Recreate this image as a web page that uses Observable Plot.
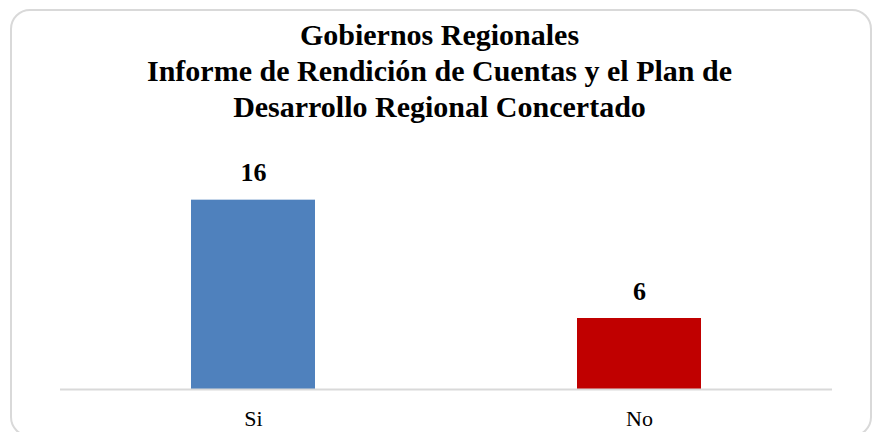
<!DOCTYPE html>
<html>
<head>
<meta charset="utf-8">
<script src="https://cdn.jsdelivr.net/npm/d3@7"></script>
<script src="https://cdn.jsdelivr.net/npm/@observablehq/plot@0.6"></script>
<style>
  html, body { margin: 0; padding: 0; background: #fff; }
  #wrap { position: relative; width: 873px; height: 432px; overflow: hidden; }
  #border { position: absolute; left: 10px; top: 9px; width: 858px; height: 424px;
            border: 2px solid #d9d9d9; border-radius: 20px; }
  #title { position: absolute; left: 3px; top: 17px; width: 873px; text-align: center;
           font-family: "Liberation Serif", serif; font-weight: bold; font-size: 30px;
           line-height: 36px; color: #000; }
  #chart { position: absolute; left: 0; top: 125px; }
</style>
</head>
<body>
<div id="wrap">
  <div id="border"></div>
  <div id="title">Gobiernos Regionales<br>Informe de Rendición de Cuentas y el Plan de<br>Desarrollo Regional Concertado</div>
  <div id="chart"></div>
</div>
<script>
const categories = ["Si", "No"];
const values = [16, 6];
const colors = ["#4f81bd", "#c00000"];

const data = categories.map((c, i) => ({category: c, value: values[i], color: colors[i]}));

const chart = Plot.plot({
  width: 873,
  height: 307,
  marginLeft: 60,
  marginRight: 41,
  marginTop: 51,
  marginBottom: 43,
  style: {background: "transparent", fontFamily: "Liberation Serif, serif", color: "#000"},
  x: {domain: categories, paddingInner: 0.68, paddingOuter: 0.34},
  y: {domain: [0, 18], axis: null},
  marks: [
    Plot.barY(data, {x: "category", y: "value", fill: "color"}),
    Plot.ruleY([0], {stroke: "#d9d9d9", strokeWidth: 2}),
    Plot.text(data, {x: "category", y: "value", text: d => String(d.value), dy: -27,
      fontSize: 26, fontWeight: "bold", fill: "#000", fontFamily: "Liberation Serif, serif"}),
    Plot.axisX({tickSize: 0, tickPadding: 21, fontSize: 22, label: null,
      fontFamily: "Liberation Serif, serif", fill: "#000"})
  ]
});
document.getElementById("chart").appendChild(chart);
</script>
</body>
</html>
